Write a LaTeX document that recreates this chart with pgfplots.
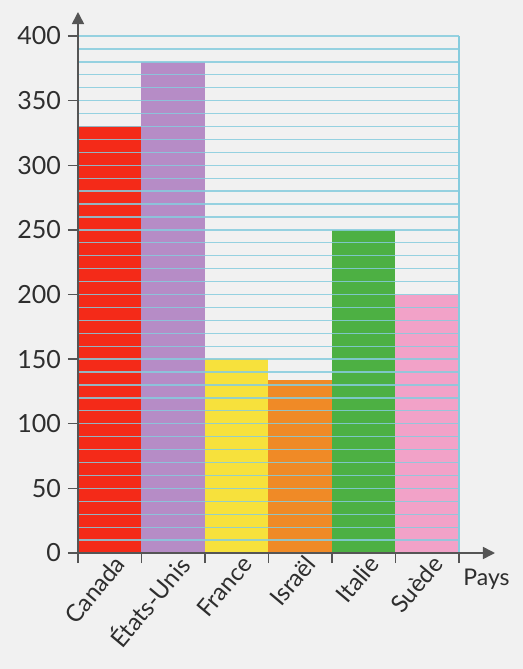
\documentclass[border=0pt]{standalone}
\usepackage{fontspec}
\setmainfont{Lato}
\usepackage{pgfplots}
\pgfplotsset{compat=1.18}
\usetikzlibrary{arrows.meta}
\definecolor{bg}{HTML}{F1F1F1}
\definecolor{gridblue}{HTML}{86CCDE}
\definecolor{txt}{HTML}{2E2E2E}
\definecolor{axgray}{HTML}{555555}
\definecolor{cCanada}{HTML}{F42A18}
\definecolor{cUSA}{HTML}{B68CC6}
\definecolor{cFrance}{HTML}{F7E13C}
\definecolor{cIsrael}{HTML}{F08A26}
\definecolor{cItalie}{HTML}{4DB043}
\definecolor{cSuede}{HTML}{F2A2C8}
\begin{document}
\begin{tikzpicture}[x=1pt,y=1pt]
\fill[bg] (-39,-58) rectangle (222.5,276.5);
\useasboundingbox (-39,-58) rectangle (222.5,276.5);
\begin{axis}[
  at={(0,0)}, anchor=origin,
  scale only axis, width=190.5pt, height=258.5pt,
  xmin=0, xmax=6, ymin=0, ymax=400,
  clip=false,
  axis lines=left,
  axis line style={axgray, line width=0.8pt, -{Triangle[width=6pt,length=6pt]}},
  x axis line style={shorten >=-18pt},
  y axis line style={shorten >=-12pt},
  axis on top,
  ytick={0,50,...,400},
  minor y tick num=4,
  ymajorgrids, yminorgrids,
  major grid style={gridblue, line width=0.65pt, opacity=0.85},
  minor grid style={gridblue, line width=0.65pt, opacity=0.85},
  tick align=outside,
  major tick length=5pt,
  minor tick length=0pt,
  tick style={axgray, line width=0.7pt},
  xtick={0,1,...,6},
  xticklabels={},
  extra x ticks={0.5,1.5,2.5,3.5,4.5,5.5},
  extra x tick labels={Canada,États-Unis,France,Israël,Italie,Suède},
  extra x tick style={major tick length=0pt, tick label style={rotate=50, anchor=east, xshift=2pt, yshift=-6pt}},
  x tick label style={font=\fontsize{12}{14}\selectfont, text=txt, inner sep=1pt},
  y tick label style={font=\fontsize{12.5}{14}\selectfont, text=txt},
  /pgf/number format/assume math mode=true,
  every axis plot/.append style={ybar, bar width=1, bar shift=0pt, draw=none},
]
\addplot[fill=cCanada] coordinates {(0.5,330)};
\addplot[fill=cUSA] coordinates {(1.5,380)};
\addplot[fill=cFrance] coordinates {(2.5,150)};
\addplot[fill=cIsrael] coordinates {(3.5,134)};
\addplot[fill=cItalie] coordinates {(4.5,250)};
\addplot[fill=cSuede] coordinates {(5.5,200)};
\draw[gridblue, line width=0.8pt] (axis cs:6,0) -- (axis cs:6,400);
\node[anchor=north west, text=txt, font=\fontsize{11.5}{13}\selectfont, inner sep=0pt] at (axis cs:6,0) [xshift=2pt, yshift=-8pt] {Pays};
\end{axis}
\end{tikzpicture}
\end{document}
